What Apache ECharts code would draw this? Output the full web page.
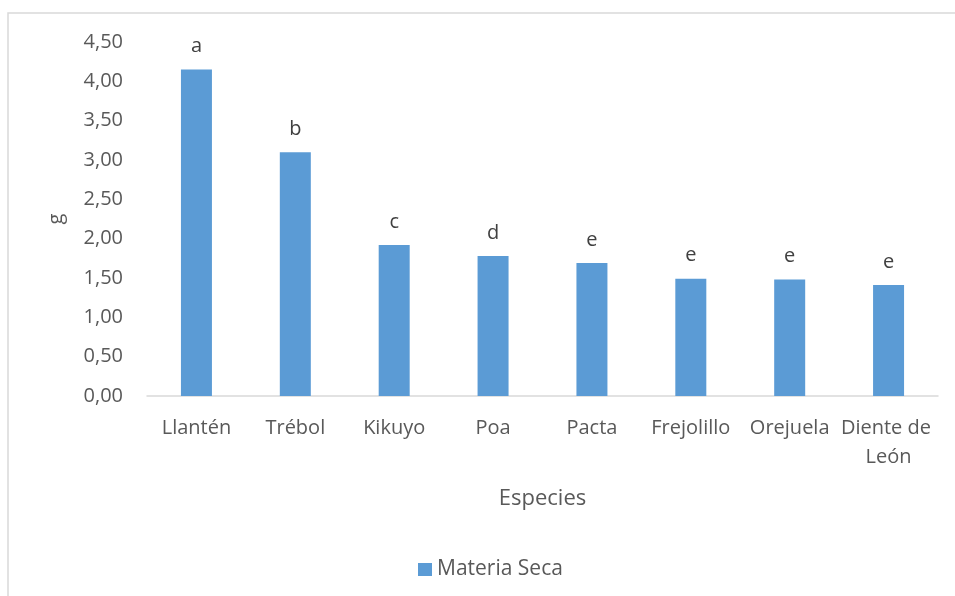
<!DOCTYPE html>
<html>
<head>
<meta charset="utf-8">
<script src="https://cdn.jsdelivr.net/npm/echarts@6/dist/echarts.min.js"></script>
<style>
  html, body { margin: 0; padding: 0; background: #fff; }
  #chart { width: 955px; height: 596px; }
</style>
</head>
<body>
<div id="chart"></div>
<script>
// Dry matter by species
const especies = ['Llantén', 'Trébol', 'Kikuyo', 'Poa', 'Pacta', 'Frejolillo', 'Orejuela', 'Diente de León'];
const materiaSeca = [4.15, 3.10, 1.92, 1.78, 1.69, 1.49, 1.48, 1.41];
const letras = ['a', 'b', 'c', 'd', 'e', 'e', 'e', 'e'];
const yTicks = [0, 4.5, 0.5]; // min, max, step

const FONT = '"Open Sans", "Noto Sans", sans-serif';
const chart = echarts.init(document.getElementById('chart'), null, { renderer: 'canvas' });

chart.setOption({
  backgroundColor: '#ffffff',
  animation: false,
  textStyle: { fontFamily: FONT },
  graphic: [{
    type: 'rect',
    shape: { x: 8, y: 13, width: 1000, height: 1000 },
    style: { fill: 'none', stroke: '#d9d9d9', lineWidth: 1.5 },
    silent: true
  }],
  grid: { left: 147, right: 17, top: 42, bottom: 200, containLabel: false },
  legend: {
    data: ['Materia Seca'],
    left: 413,
    top: 554,
    icon: 'rect',
    itemWidth: 14,
    itemHeight: 13,
    itemGap: 8,
    textStyle: { fontSize: 21, color: '#595959', fontFamily: FONT }
  },
  xAxis: {
    type: 'category',
    data: especies,
    name: 'Especies',
    nameLocation: 'middle',
    nameGap: 92,
    nameTextStyle: { fontSize: 22, color: '#595959', fontFamily: FONT },
    axisLine: { lineStyle: { color: '#d9d9d9', width: 1.5 } },
    axisTick: { show: false },
    axisLabel: {
      interval: 0,
      margin: 18,
      fontSize: 20,
      color: '#595959',
      fontFamily: FONT,
      width: 100,
      overflow: 'break',
      lineHeight: 29
    }
  },
  yAxis: {
    type: 'value',
    min: yTicks[0],
    max: yTicks[1],
    interval: yTicks[2],
    name: 'g',
    nameLocation: 'middle',
    nameGap: 81,
    nameTextStyle: { fontSize: 20, color: '#595959', fontFamily: FONT },
    axisLine: { show: false },
    axisTick: { show: false },
    splitLine: { show: false },
    axisLabel: {
      margin: 24,
      fontSize: 20,
      color: '#595959',
      fontFamily: FONT,
      formatter: v => v.toFixed(2).replace('.', ',')
    }
  },
  series: [{
    name: 'Materia Seca',
    type: 'bar',
    data: materiaSeca,
    barWidth: 31,
    itemStyle: { color: '#5b9bd5' },
    label: {
      show: true,
      position: 'top',
      distance: 13,
      fontSize: 20,
      color: '#404040',
      fontFamily: FONT,
      formatter: p => letras[p.dataIndex]
    }
  }]
});
</script>
</body>
</html>
